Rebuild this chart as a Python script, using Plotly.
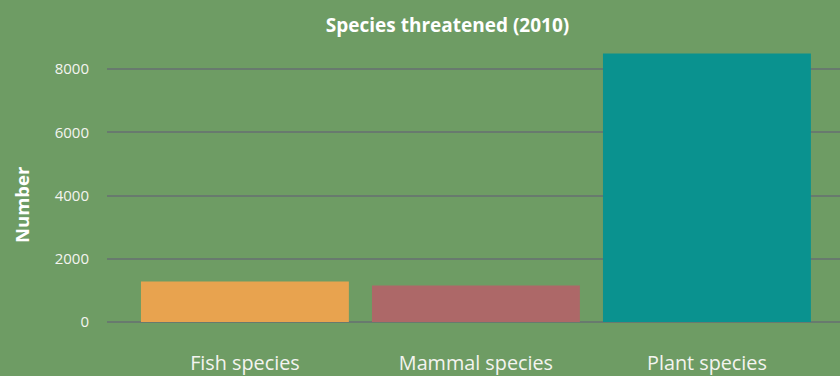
import plotly.graph_objects as go

categories = ["Fish species", "Mammal species", "Plant species"]
values = [1281, 1154, 8490]
colors = ["#e8a34f", "#ad6868", "#0a928f"]
tick_vals = [0, 2000, 4000, 6000, 8000]
tick_text = ["0", "2000", "4000", "6000", "8000"]

BG = "#6e9c64"
FONT = "Open Sans"

fig = go.Figure(go.Bar(
    x=categories, y=values, marker=dict(color=colors, line=dict(width=0)),
    width=0.9, showlegend=False, hoverinfo="x+y",
))

W, H = 840, 376
ml, mr, mt, mb = 107, 0, 40, 54
fig.update_layout(
    width=W, height=H,
    margin=dict(l=ml, r=mr, t=mt, b=mb, pad=0),
    paper_bgcolor=BG, plot_bgcolor=BG,
    font=dict(family=FONT, color="#f4f4f0"),
    title=dict(text="<b>Species threatened (2010)</b>", x=447.5 / W, xanchor="center",
               y=1 - 25 / H, yanchor="middle", font=dict(size=19, color="#ffffff", family=FONT)),
    xaxis=dict(range=[-0.597, 2.576], showgrid=False, zeroline=False, showline=False,
               tickfont=dict(size=19.8, color="#f4f4f0"), ticks="", ticklabelstandoff=27),
    yaxis=dict(range=[0, 8917], tickvals=tick_vals, ticktext=tick_text,
               showgrid=True, gridcolor="#687a6e", gridwidth=2,
               zeroline=True, zerolinecolor="#687a6e", zerolinewidth=2,
               showline=False, ticks="", tickfont=dict(size=15, color="#f4f4f0"),
               ticklabelstandoff=17),
    annotations=[dict(text="<b>Number</b>", textangle=-90, xref="paper", yref="paper",
                      x=-(ml - 21) / (W - ml - mr), y=(H - mb - 205) / (H - mt - mb),
                      xanchor="center", yanchor="middle", showarrow=False,
                      font=dict(size=18.5, color="#ffffff", family=FONT))],
)

fig.write_html("out.html")
